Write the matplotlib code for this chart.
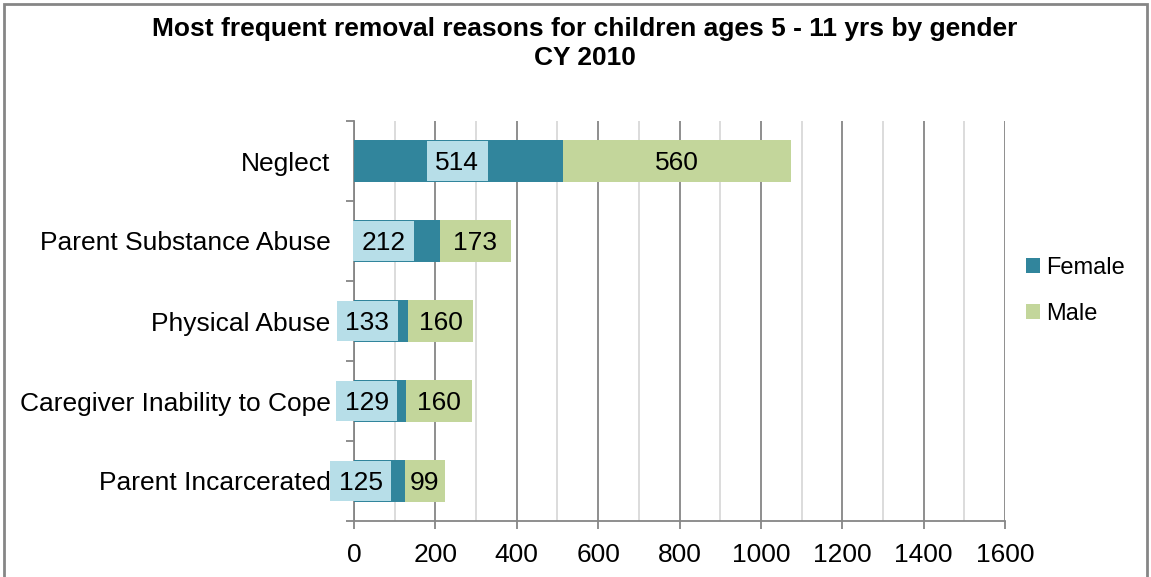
import numpy as np
import matplotlib.pyplot as plt
from matplotlib.patches import Rectangle
from matplotlib.ticker import MultipleLocator

plt.rcParams['font.family'] = ['Liberation Sans', 'DejaVu Sans']

# ============================================================
# 数据
# ============================================================
categories = ['Neglect', 'Parent Substance Abuse', 'Physical Abuse',
              'Caregiver Inability to Cope', 'Parent Incarcerated']
female = [514, 212, 133, 129, 125]
male = [560, 173, 160, 160, 99]

# Female 标签在图中的位置（数据单位，原图是手动挪过的）
female_label_x = [254, 73, 32, 31, 16]

female_color = '#31859C'
male_color = '#C3D69B'
label_box_color = '#B7DEE8'
grid_dark = '#868686'
grid_light = '#D9D9D9'

# ============================================================
# 绘图
# ============================================================
fig = plt.figure(figsize=(11.51, 5.77), dpi=100)
ax = fig.add_axes([354 / 1151, 1 - 521 / 577, 651 / 1151, 400 / 577])

y = np.arange(len(categories))
height = 0.53
box_w, box_h = 150, 0.49   # 标签底框大小（数据单位）

ax.barh(y, female, height, color=female_color, label='Female', zorder=3)
ax.barh(y, male, height, left=female, color=male_color, label='Male', zorder=3)

for i in range(len(categories)):
    ax.add_patch(Rectangle((female_label_x[i] - box_w / 2, y[i] - box_h / 2),
                           box_w, box_h, fc=label_box_color, ec='none',
                           zorder=4, clip_on=False))
    ax.text(female_label_x[i], y[i], f'{female[i]}', ha='center', va='center_baseline',
            fontsize=19, zorder=5)
    ax.text(female[i] + male[i] / 2, y[i], f'{male[i]}', ha='center',
            va='center_baseline', fontsize=19, zorder=5)

ax.set_xlim(0, 1600)
ax.set_ylim(len(categories) - 0.5, -0.5)

ax.xaxis.set_major_locator(MultipleLocator(200))
ax.xaxis.set_minor_locator(MultipleLocator(100))
ax.grid(axis='x', which='major', color=grid_dark, linewidth=1.3, zorder=0)
ax.grid(axis='x', which='minor', color=grid_light, linewidth=1.3, zorder=0)
ax.set_axisbelow(True)

ax.set_yticks(y)
ax.set_yticklabels(categories)
ax.set_yticks(np.arange(len(categories) + 1) - 0.5, minor=True)
ax.tick_params(axis='y', which='major', length=0, pad=17, labelsize=19)
ax.tick_params(axis='y', which='minor', length=6, width=1.3, color=grid_dark)
ax.tick_params(axis='x', which='major', length=6, width=1.3, color=grid_dark,
               labelsize=19, pad=10)
ax.tick_params(axis='x', which='minor', length=0)

for side in ['top', 'right']:
    ax.spines[side].set_visible(False)
for side in ['left', 'bottom']:
    ax.spines[side].set_color(grid_dark)
    ax.spines[side].set_linewidth(1.3)

fig.suptitle('Most frequent removal reasons for children ages 5 - 11 yrs by gender\nCY 2010',
             x=585 / 1151, y=1 - 17 / 577, fontsize=19, fontweight='bold',
             va='top', linespacing=1.25)

ax.legend(loc='center left', bbox_to_anchor=(1014 / 1151, 1 - 291 / 577),
          bbox_transform=fig.transFigure, frameon=False, fontsize=17,
          handlelength=0.6, handleheight=0.6, handletextpad=0.25,
          labelspacing=1.0, borderpad=0)

# 外边框
fig.patches.append(Rectangle((4 / 1151, -0.01), 1143 / 1151, 1 - 4 / 577 + 0.01,
                             transform=fig.transFigure, fill=False,
                             ec=grid_dark, lw=2))

fig.savefig('out.png', dpi=100)
